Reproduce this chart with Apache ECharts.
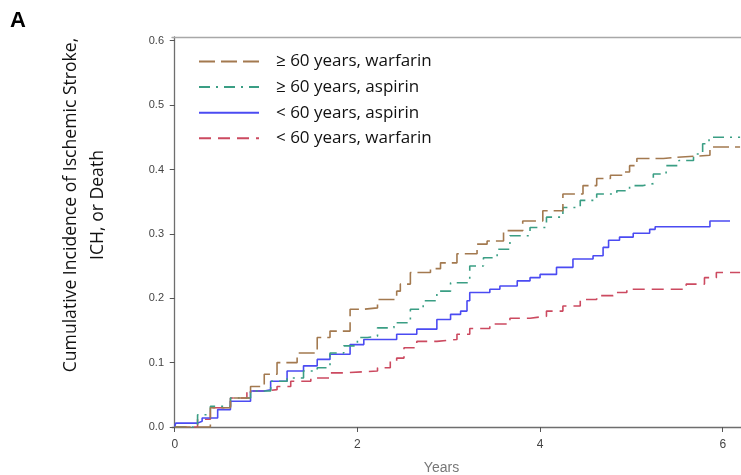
<!DOCTYPE html>
<html>
<head>
<meta charset="utf-8">
<script src="https://cdn.jsdelivr.net/npm/echarts@6/dist/echarts.min.js"></script>
<style>
html,body{margin:0;padding:0;background:#fff;}
#chart{width:741px;height:475px;}
</style>
</head>
<body>
<div id="chart"></div>
<script>
// Series names
var seriesNames = ['\u2265 60 years, warfarin', '\u2265 60 years, aspirin', '< 60 years, aspirin', '< 60 years, warfarin'];

// Kaplan-Meier style step data: [years, cumulative incidence]
var oldWarfarin = [
  [0,0],[0.39,0.030],[0.61,0.045],[0.83,0.063],[0.98,0.082],[1.12,0.100],[1.34,0.115],
  [1.56,0.139],[1.70,0.149],[1.92,0.183],[2.07,0.185],[2.22,0.198],[2.43,0.211],[2.47,0.222],
  [2.58,0.240],[2.80,0.246],[2.91,0.255],[3.09,0.269],[3.31,0.284],[3.42,0.289],[3.60,0.305],
  [3.81,0.320],[4.03,0.336],[4.25,0.362],[4.47,0.375],[4.62,0.386],[4.77,0.391],[4.91,0.396],
  [4.98,0.406],[5.06,0.417],[5.35,0.419],[5.49,0.422],[5.86,0.435],[6.19,0.435]
];
var oldAspirin = [
  [0,0],[0.25,0.019],[0.39,0.032],[0.61,0.045],[0.83,0.056],[1.05,0.071],[1.23,0.076],
  [1.41,0.087],[1.56,0.092],[1.70,0.115],[1.85,0.126],[2.00,0.139],[2.11,0.141],[2.22,0.154],
  [2.40,0.162],[2.58,0.183],[2.72,0.196],[2.87,0.211],[3.02,0.224],[3.23,0.250],[3.38,0.263],
  [3.53,0.276],[3.67,0.297],[3.89,0.310],[4.07,0.326],[4.25,0.341],[4.44,0.352],[4.62,0.362],
  [4.84,0.367],[4.98,0.375],[5.13,0.378],[5.24,0.393],[5.38,0.406],[5.52,0.414],[5.68,0.424],
  [5.78,0.440],[5.85,0.450],[6.19,0.451]
];
var youngAspirin = [
  [0,0],[0.01,0.006],[0.25,0.009],[0.30,0.014],[0.47,0.027],[0.61,0.040],[0.83,0.056],
  [0.98,0.058],[1.05,0.071],[1.23,0.087],[1.41,0.095],[1.56,0.105],[1.70,0.113],[1.92,0.128],
  [2.07,0.136],[2.43,0.144],[2.65,0.152],[2.87,0.167],[3.02,0.175],[3.13,0.180],[3.20,0.196],
  [3.23,0.209],[3.45,0.214],[3.56,0.219],[3.75,0.227],[3.89,0.232],[4.00,0.237],[4.18,0.248],
  [4.36,0.261],[4.58,0.266],[4.69,0.279],[4.75,0.290],[4.87,0.295],[5.02,0.301],[5.20,0.307],
  [5.26,0.311],[5.86,0.320],[6.08,0.320]
];
var youngWarfarin = [
  [0,0],[0.25,0.012],[0.39,0.030],[0.61,0.045],[0.79,0.056],[0.98,0.058],[1.12,0.063],
  [1.27,0.071],[1.49,0.076],[1.70,0.084],[1.85,0.087],[2.22,0.092],[2.36,0.102],[2.43,0.107],
  [2.51,0.123],[2.65,0.133],[2.87,0.136],[3.09,0.144],[3.23,0.153],[3.45,0.160],[3.67,0.169],
  [3.89,0.172],[4.07,0.180],[4.25,0.188],[4.44,0.198],[4.62,0.204],[4.80,0.209],[4.95,0.214],
  [5.60,0.222],[5.80,0.232],[5.93,0.240],[6.19,0.240]
];

var xTicks = [0, 2, 4, 6];
var yTicks = [0, 0.1, 0.2, 0.3, 0.4, 0.5, 0.6];

var colors = ['#A3794F', '#3A9E84', '#4B4BF2', '#CC4A60'];
var dashes = [[16, 6], [11, 6, 2, 6], 'solid', [12, 7]];
var dataSets = [oldWarfarin, oldAspirin, youngAspirin, youngWarfarin];

var chart = echarts.init(document.getElementById('chart'), null, {renderer: 'canvas'});

var series = dataSets.map(function (d, i) {
  return {
    name: seriesNames[i],
    type: 'line',
    step: 'end',
    data: d,
    symbol: 'none',
    showSymbol: false,
    animation: false,
    z: 10 - i,
    lineStyle: {color: colors[i], width: 1.6, type: dashes[i]},
    itemStyle: {color: colors[i]}
  };
});

chart.setOption({
  animation: false,
  backgroundColor: '#ffffff',
  grid: {
    left: 172, right: 0, top: 37, bottom: 48,
    outerBoundsMode: 'none',
    containLabel: false,
    show: false
  },
  legend: {
    data: seriesNames,
    orient: 'vertical',
    left: 193, top: 48,
    itemWidth: 60, itemHeight: 14, itemGap: 8.6,
    itemStyle: {opacity: 0},
    textStyle: {fontFamily: 'Open Sans', fontSize: 17, color: '#111', padding: [0, 0, 0, 12]}
  },
  xAxis: [{
    type: 'value',
    min: -0.03, max: 6.2,
    splitLine: {show: false},
    axisLine: {show: true, lineStyle: {color: '#6e6e6e', width: 1.3}},
    axisTick: {show: true, length: 5, customValues: xTicks, lineStyle: {color: '#555'}},
    axisLabel: {customValues: xTicks, color: '#444', fontSize: 12, fontFamily: 'Liberation Sans', margin: 12,
      formatter: function (v) { return String(v); }},
    name: 'Years',
    nameLocation: 'middle',
    nameGap: 34,
    nameTextStyle: {color: '#777', fontSize: 14, fontFamily: 'Liberation Sans', padding: [0, 0, 0, -30]}
  }, {
    type: 'value',
    position: 'top',
    min: -0.03, max: 6.2,
    splitLine: {show: false},
    axisLine: {show: true, lineStyle: {color: '#a8a8a8', width: 1.3}},
    axisTick: {show: false},
    axisLabel: {show: false}
  }],
  yAxis: {
    type: 'value',
    min: 0, max: 0.6058,
    splitLine: {show: false},
    axisLine: {show: true, lineStyle: {color: '#6e6e6e', width: 1.3}},
    axisTick: {show: true, length: 5, customValues: yTicks, lineStyle: {color: '#555'}},
    axisLabel: {customValues: yTicks, color: '#444', fontSize: 11, fontFamily: 'Liberation Sans', margin: 8,
      formatter: function (v) { return v.toFixed(1); }}
  },
  graphic: [
    {
      type: 'text', left: 10, top: 10,
      style: {text: 'A', font: 'bold 22px "Liberation Sans"', fill: '#000'}
    },
    {
      type: 'text', x: 84, y: 205, rotation: Math.PI / 2,
      style: {
        text: 'Cumulative Incidence of Ischemic Stroke,\nICH, or Death',
        font: '17.6px "Open Sans"', fill: '#111', align: 'center', verticalAlign: 'middle', lineHeight: 27
      }
    }
  ],
  series: series
});
</script>
</body>
</html>
